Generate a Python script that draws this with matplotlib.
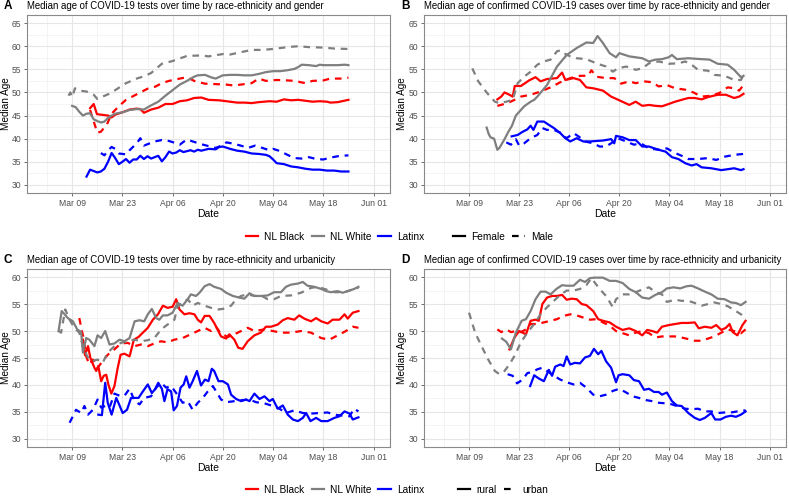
import numpy as np
import matplotlib
matplotlib.use("Agg")
import matplotlib.pyplot as plt
import matplotlib.dates as mdates
from matplotlib.lines import Line2D
from matplotlib.ticker import MultipleLocator

plt.rcParams['font.family'] = ['Liberation Sans', 'DejaVu Sans']

# (days after Mar 09 2020, median age)
# --- A: tests by gender ---
a_black_f = [(5, 46.6), (6, 47.5), (6.9, 45.3), (8, 45.2), (10, 45.0), (11, 44.6), (12, 45.2), (14, 45.7),
             (16, 46.3), (18, 46.5), (19, 46.4), (20, 45.6), (22, 46.3), (24, 46.7), (26, 47.5), (28, 47.5),
             (30, 48.1), (32, 48.3), (34, 48.8), (36, 48.9), (38, 48.4), (41, 48.3), (44, 48.0), (46, 47.8),
             (48, 47.8), (50, 47.7), (52, 47.9), (55, 48.1), (57, 48.0), (59, 48.5), (61, 48.3), (63, 48.4),
             (65, 48.2), (67, 48.0), (69, 48.1), (71, 48.0), (72, 47.8), (74, 47.9), (77, 48.4)]
a_black_m = [(5, 46.2), (7, 41.3), (8, 41.5), (9.7, 43.1), (11, 45.4), (13, 47.0), (15, 48.4), (17, 49.2),
             (19, 50.0), (21, 50.8), (23, 51.2), (25, 52.0), (27, 52.5), (30, 53.0), (32, 53.3), (34, 52.5),
             (37, 51.9), (40, 51.8), (43, 51.7), (45, 51.5), (48, 51.8), (50, 52.0), (52, 53.0), (54, 52.5),
             (57, 52.7), (60, 52.6), (62, 52.5), (65, 52.0), (67, 52.5), (70, 52.6), (72, 53.0), (75, 53.0),
             (77, 53.2)]
a_white_f = [(0, 47.1), (1, 46.8), (2, 45.8), (3, 45.0), (4, 45.4), (5, 45.5), (6, 44.2), (7, 43.8),
             (8, 43.5), (9, 43.7), (10, 44.5), (11, 45.0), (12, 45.4), (14, 45.7), (16, 46.2), (18, 46.4),
             (20, 46.3), (22, 47.2), (24, 48.0), (26, 49.3), (28, 50.5), (30, 51.7), (32, 52.5), (34, 53.4),
             (35, 53.7), (37, 53.8), (39, 53.2), (40, 53.0), (42, 53.7), (44, 53.8), (46, 53.8), (48, 53.7),
             (50, 53.7), (52, 54.0), (54, 54.4), (56, 54.6), (58, 54.6), (60, 54.8), (62, 55.1), (63, 55.5),
             (64, 56.0), (66, 55.9), (68, 55.7), (69, 56.0), (70, 55.9), (72, 55.9), (74, 55.9), (76, 56.0),
             (77, 55.9)]
a_white_m = [(-1, 49.3), (-0.5, 50.0), (0, 49.0), (0.8, 50.9), (2, 50.4), (4, 50.2), (6, 49.5), (7, 48.6),
             (10, 49.6), (11, 50.0), (12, 50.5), (15, 52.0), (18, 53.0), (20, 53.5), (22, 54.2), (25, 56.2),
             (28, 56.8), (32, 57.9), (36, 58.0), (38, 57.8), (42, 58.3), (44, 58.2), (47, 58.7), (50, 59.2),
             (53, 59.2), (56, 59.4), (60, 59.8), (63, 60.0), (66, 59.8), (70, 59.7), (73, 59.5), (77, 59.4)]
a_latinx_f = [(4, 31.8), (5, 33.3), (6, 33.0), (7, 32.7), (8, 32.9), (9, 33.5), (10, 35.0), (11, 36.9),
              (12, 35.8), (13, 34.5), (14, 35.0), (15, 35.6), (16, 34.8), (17, 35.5), (18, 35.5), (19, 36.3),
              (20, 35.6), (21, 36.2), (22, 35.7), (23, 36.0), (24, 36.3), (25, 35.1), (26, 36.0), (27, 37.2),
              (28, 36.8), (29, 37.0), (30, 37.5), (31, 37.1), (32, 37.3), (33, 37.5), (34, 37.2), (35, 37.6),
              (36, 37.4), (38, 37.8), (40, 37.7), (41, 38.2), (42, 38.3), (44, 37.8), (46, 37.4), (48, 37.2),
              (50, 36.8), (52, 36.7), (54, 36.5), (55, 36.2), (56, 35.5), (57, 34.7), (59, 34.5), (61, 34.0),
              (63, 33.8), (65, 33.5), (67, 33.3), (69, 33.3), (71, 33.1), (73, 33.1), (75, 32.9), (77, 32.9)]
a_latinx_m = [(8, 36.9), (9, 36.4), (10, 37.5), (11, 38.2), (12, 37.8), (13, 36.8), (15, 36.6), (16, 37.5),
              (18, 39.0), (19, 40.1), (20, 38.5), (21, 38.8), (23, 39.4), (25, 39.7), (27, 39.5), (29, 39.0),
              (30, 38.7), (31, 39.3), (32, 39.8), (34, 39.3), (36, 38.8), (38, 38.4), (40, 38.0), (42, 38.6),
              (43, 39.2), (45, 38.9), (47, 38.5), (49, 38.0), (51, 38.5), (53, 38.0), (55, 37.5), (56, 37.8),
              (58, 37.3), (60, 36.5), (62, 35.8), (64, 35.7), (66, 36.0), (68, 35.6), (70, 35.5), (72, 35.9),
              (74, 36.2), (77, 36.4)]

# --- B: cases by gender ---
b_black_f = [(7.9, 48.5), (9, 49.1), (9.9, 50.0), (11.3, 49.5), (12.2, 49.1), (12.8, 51.4), (14.5, 51.4),
             (16.8, 52.6), (18.6, 53.3), (20, 52.4), (21.8, 52.9), (24.6, 53.1), (26, 54.3), (26.9, 52.7),
             (29.2, 53.1), (31, 52.7), (32.8, 51.1), (34.7, 50.9), (37.4, 50.4), (39.7, 49.1), (42, 48.3),
             (44.8, 47.3), (46.6, 48.0), (48.4, 47.1), (50.3, 47.3), (52.1, 47.1), (53.9, 47.0), (55.8, 47.5),
             (57.6, 48.0), (59.4, 48.4), (61.3, 48.8), (63.1, 48.8), (65, 48.5), (66.8, 49.0), (69.5, 49.5),
             (71.8, 49.5), (74.1, 48.8), (75.5, 49.1), (76.7, 49.7)]
b_black_m = [(7.9, 47.1), (10.8, 47.7), (12.7, 48.4), (14.5, 49.1), (17.2, 49.5), (20, 50.2), (22.8, 51.1),
             (25.5, 52.2), (28.3, 53.1), (31, 53.6), (33.3, 53.6), (34.2, 54.8), (35.6, 53.4), (38.3, 53.1),
             (40.6, 53.1), (42.5, 51.9), (44.8, 52.4), (46.6, 52.0), (48.9, 52.4), (51.2, 52.2), (53, 51.3),
             (55.3, 51.6), (57.6, 50.9), (60.4, 50.6), (62.7, 50.0), (65, 49.1), (67.7, 49.3), (70, 49.9),
             (72.3, 51.1), (74.1, 50.9), (75.5, 50.4), (76.7, 51.6)]
b_white_f = [(4.9, 42.4), (5.5, 41.0), (6, 40.3), (7, 40.0), (7.9, 37.6), (8.5, 38.0), (10, 40.0), (11, 41.5),
             (12, 42.8), (13.1, 45.0), (15.4, 47.0), (17.2, 48.0), (18.2, 48.4), (19.1, 49.1), (21.8, 51.6),
             (24.6, 55.6), (27.3, 58.1), (30.1, 59.6), (32.8, 60.8), (34.7, 60.7), (35.9, 62.2), (37.4, 60.7),
             (39.3, 58.5), (41.1, 57.6), (42, 58.5), (44.8, 57.8), (48.4, 57.4), (50.3, 56.7), (52.1, 57.1),
             (53.9, 57.2), (55.8, 57.6), (56.7, 58.1), (58.1, 57.2), (61.3, 57.4), (65, 57.2), (67.2, 57.1),
             (69.5, 56.2), (72.3, 56.0), (74.1, 54.9), (76, 53.3), (76.7, 53.6)]
b_white_m = [(0.9, 55.2), (2.6, 52.4), (4.9, 50.0), (7.2, 48.0), (8.5, 47.7), (10.4, 48.0), (12.2, 48.4),
             (13.6, 52.0), (15.4, 53.4), (17.2, 54.5), (19.1, 56.0), (20.9, 56.7), (22.8, 57.1), (24.6, 58.9),
             (25.5, 59.1), (26.4, 58.5), (28.3, 57.8), (30.1, 57.4), (32.8, 57.2), (35.6, 56.3), (38.3, 55.6),
             (40.2, 54.5), (41.6, 55.2), (43.9, 55.6), (46.6, 54.9), (48.4, 55.2), (50.3, 56.3), (53, 56.7),
             (55.8, 56.2), (58.5, 56.3), (60.4, 56.7), (62.2, 56.0), (64, 54.9), (66.8, 54.7), (68.6, 53.8),
             (71.4, 53.6), (74.1, 52.7), (76, 52.7), (76.7, 53.8)]
b_latinx_f = [(11.9, 40.5), (13.6, 40.8), (15, 41.5), (16.3, 42.0), (17.2, 42.8), (18, 41.9), (19.1, 43.7),
              (20.9, 43.7), (22.3, 43.0), (23.7, 42.3), (25.5, 41.2), (26.9, 40.1), (28.3, 39.4), (30.1, 40.1),
              (31.9, 39.4), (33.8, 39.4), (35.6, 39.5), (37.4, 39.6), (39.7, 39.9), (40.6, 39.0), (41.1, 40.6),
              (42.9, 40.3), (44.8, 39.7), (46.6, 39.7), (48.4, 38.3), (50.3, 38.3), (53, 37.6), (54.9, 37.2),
              (56.7, 36.0), (58.5, 35.6), (60.4, 34.7), (62.2, 34.2), (63.6, 34.5), (65, 33.8), (67.7, 33.6),
              (70.5, 33.2), (72.3, 33.4), (74.1, 33.6), (76, 33.2), (76.7, 33.4)]
b_latinx_m = [(10.4, 39.2), (11.7, 38.7), (13.1, 39.9), (14, 38.5), (15.4, 39.0), (17.2, 40.1), (19.1, 40.8),
              (20.5, 42.3), (21.8, 41.9), (23.7, 41.9), (25.5, 41.3), (27.3, 40.1), (29.2, 41.2), (30.6, 40.5),
              (32.4, 39.4), (34.7, 39.0), (36.5, 38.3), (38.3, 38.3), (39.7, 39.0), (41.6, 40.1), (43.9, 39.4),
              (46.1, 38.7), (48, 39.0), (50.3, 37.9), (53, 37.6), (55.3, 37.9), (57.6, 36.9), (59.4, 36.3),
              (61.3, 35.6), (64, 35.6), (66.8, 35.8), (69.1, 35.4), (71.4, 36.1), (74.1, 36.5), (76.7, 36.7)]

# --- C: tests by urbanicity ---
c_black_r = [(3, 48.4), (3.6, 45.5), (4.4, 47.2), (5.1, 45.0), (6.2, 43.2), (6.7, 42.6), (7.3, 43.5),
             (8.1, 40.7), (8.8, 41.7), (9.5, 41.9), (10.1, 40.1), (10.9, 38.4), (11.8, 39.8), (12.7, 43.2),
             (13.5, 45.6), (14.6, 45.8), (16, 45.3), (17.2, 48.4), (18.5, 48.9), (19.7, 49.7), (21.1, 50.6),
             (22.5, 52.1), (23.9, 53.1), (25.3, 54.7), (26.6, 54.3), (28, 54.5), (29, 55.9), (29.9, 54.0),
             (31.3, 53.1), (32.7, 53.3), (34.1, 53.1), (35, 52.1), (35.9, 51.6), (36.9, 52.8), (38.3, 52.8),
             (39.6, 51.5), (41.5, 49.0), (42.9, 48.6), (43.8, 49.4), (45.2, 48.4), (46.3, 46.9), (47.5, 46.7),
             (48.9, 48.1), (50.8, 49.2), (52.6, 49.7), (54, 50.8), (55.4, 50.8), (57.3, 51.2), (58.7, 52.0),
             (60.1, 52.4), (61.9, 52.1), (63.3, 52.9), (64.7, 52.3), (66.6, 51.8), (68, 52.4), (69.4, 51.8),
             (71.2, 51.4), (72.6, 52.1), (74.5, 52.1), (75.9, 53.1), (76.8, 52.3), (78.2, 53.4), (79.8, 53.7)]
c_black_u = [(2, 52.4), (2.7, 50.0), (3.2, 48.7), (3.9, 45.3), (4.8, 43.8), (5.8, 44.7), (7.1, 43.2),
             (8.5, 44.4), (9.9, 45.6), (11.8, 46.6), (13.6, 47.7), (15.5, 47.8), (17.4, 47.2), (19.2, 47.5),
             (21.1, 47.2), (22.9, 47.7), (24.8, 48.1), (26.6, 47.9), (28.5, 48.4), (30.8, 48.7), (33.1, 49.4),
             (35, 50.0), (36.9, 50.6), (38.7, 50.0), (40.1, 50.8), (41.5, 49.5), (43.4, 48.9), (45.2, 49.4),
             (47.1, 50.0), (48.9, 50.6), (50.8, 50.0), (53.6, 50.3), (55.9, 50.0), (58.2, 49.7), (61, 49.7),
             (63.8, 50.0), (66.6, 49.7), (69.4, 48.7), (71.7, 48.4), (74, 49.2), (76.3, 50.0), (78.2, 50.8),
             (79.8, 50.6)]
c_white_r = [(-3.8, 50.0), (-2.9, 53.7), (-2.1, 53.1), (-1.2, 52.4), (0.2, 51.8), (1.4, 50.3), (2.5, 49.8),
             (3, 46.0), (3.9, 48.7), (4.8, 48.4), (6.2, 47.2), (7.1, 49.2), (8.1, 48.7), (9.2, 50.0),
             (10.4, 47.5), (11.8, 47.7), (13.2, 48.4), (14.6, 48.1), (16, 48.7), (17.4, 51.8), (18.8, 52.0),
             (20.1, 51.8), (21.1, 53.1), (22.2, 54.1), (23.4, 52.4), (24.3, 52.1), (25.3, 52.9), (26.6, 52.9),
             (28, 53.4), (29.4, 55.2), (30.8, 54.7), (32.2, 55.9), (33.1, 56.8), (34.5, 56.5), (35.5, 57.1),
             (36.9, 58.3), (38.3, 58.7), (39.6, 58.2), (41.5, 57.8), (42.9, 57.1), (44.8, 56.5), (46.6, 56.2),
             (48, 56.0), (49.4, 57.0), (50.8, 56.5), (52.6, 56.5), (54.5, 56.6), (56.3, 57.2), (58.2, 57.2),
             (59.6, 58.2), (61, 58.6), (62.9, 58.8), (64.3, 59.1), (65.6, 58.4), (67.5, 58.2), (69.4, 57.8),
             (70.8, 57.4), (72.1, 57.2), (74, 57.4), (75.4, 57.1), (76.8, 57.4), (78.6, 57.8), (79.8, 58.2)]
c_white_u = [(-3.8, 50.0), (-3.1, 49.7), (-1.9, 54.0), (-0.7, 52.1), (0.6, 50.6), (2, 49.7), (3, 47.2),
             (4.2, 45.3), (5.3, 44.4), (7.1, 44.7), (8.5, 44.1), (9.9, 46.0), (11.8, 47.2), (13.6, 47.8),
             (15.5, 48.1), (17.4, 48.4), (19.2, 48.1), (21.1, 48.3), (22.9, 48.7), (24.8, 50.3), (26.6, 51.2),
             (28.5, 52.1), (29.4, 54.6), (30.8, 55.2), (32.2, 55.9), (33.6, 54.7), (35, 55.2), (36.9, 54.7),
             (38.7, 54.3), (40.6, 54.0), (42, 54.1), (44.3, 54.7), (45.7, 55.9), (47.1, 56.5), (48.9, 56.8),
             (50.8, 56.5), (52.6, 56.6), (54.5, 55.9), (56.3, 55.9), (58.2, 56.5), (61, 56.6), (63.8, 57.1),
             (66.6, 58.0), (68.4, 58.2), (70.8, 57.7), (73.1, 57.2), (75.9, 57.2), (77.7, 57.6), (79.8, 58.0)]
c_latinx_r = [(7.3, 34.5), (8.3, 34.4), (9.2, 40.4), (9.9, 36.7), (11, 34.5), (12.3, 37.6), (13.2, 36.2),
              (14.1, 34.8), (15.3, 35.4), (16.4, 37.6), (17.4, 37.6), (18.5, 37.6), (19.7, 38.8), (21.1, 40.1),
              (22.2, 38.5), (23.1, 39.2), (24, 40.4), (25, 39.3), (25.7, 37.0), (26.6, 39.2), (27.6, 38.8),
              (28.3, 35.3), (29.2, 36.1), (30.2, 39.5), (31.1, 40.1), (31.8, 41.6), (32.7, 39.5), (33.6, 40.7),
              (34.8, 42.6), (35.9, 39.9), (37, 41.0), (38, 40.7), (38.9, 43.0), (39.6, 42.6), (40.8, 40.7),
              (42, 40.7), (43.4, 40.1), (44.3, 38.2), (45.7, 37.4), (47.1, 37.0), (48.5, 37.3), (49.4, 37.0),
              (50.8, 38.4), (52.2, 37.4), (53.6, 37.9), (55, 37.0), (55.9, 37.4), (57.3, 35.6), (58.7, 36.2),
              (60.1, 34.5), (61.5, 33.6), (62.9, 33.3), (64.3, 33.9), (65.2, 34.8), (66.4, 33.3), (68, 33.9),
              (69.4, 33.3), (71.2, 33.3), (73.1, 33.9), (74.5, 34.2), (75.9, 35.1), (77.3, 34.7), (78.2, 33.6),
              (79.8, 34.0)]
c_latinx_u = [(-0.7, 33.0), (0.2, 34.2), (1.1, 35.4), (2.5, 34.8), (3.4, 36.1), (4.4, 34.5), (5.8, 35.4),
              (7.1, 37.3), (8.1, 35.8), (9.2, 36.1), (10.4, 35.8), (11.8, 38.4), (13.2, 38.0), (14.6, 38.0),
              (16, 39.3), (17.4, 37.0), (18.8, 36.4), (20.1, 37.6), (22, 37.9), (23.4, 39.5), (24.8, 40.4),
              (26.2, 39.5), (27.6, 39.8), (29, 38.5), (30.8, 36.7), (32.2, 37.0), (33.6, 35.4), (35, 36.7),
              (36.4, 37.6), (37.8, 38.8), (39.2, 39.8), (40.4, 38.5), (41.5, 37.3), (42.9, 36.8), (45.2, 37.0),
              (47.5, 37.2), (49.4, 37.3), (51.3, 36.8), (53.6, 36.6), (55.9, 36.1), (57.8, 35.6), (59.6, 34.8),
              (61.9, 35.3), (64.3, 34.8), (66.6, 34.7), (68.9, 34.8), (71.2, 34.9), (73.1, 34.5), (75.4, 34.3),
              (77.3, 34.2), (78.6, 35.6), (79.8, 35.1)]

# --- D: cases by urbanicity ---
d_black_r = [(11.3, 46.6), (12.7, 48.8), (14, 50.0), (15.9, 49.4), (17.2, 51.9), (18.6, 52.1), (19.5, 51.9),
             (20.5, 55.0), (21.8, 56.2), (23.2, 56.5), (24.6, 56.5), (26, 56.7), (27.3, 55.8), (28.7, 56.0),
             (30.1, 55.9), (31.5, 55.0), (32.8, 54.8), (34.7, 53.7), (36.1, 52.2), (37.4, 51.9), (39.3, 51.6),
             (41.1, 50.8), (42.9, 50.2), (44.8, 50.5), (46.6, 50.0), (48.4, 49.2), (49.8, 50.2), (51.2, 50.0),
             (52.6, 49.7), (53.9, 50.8), (55.8, 51.1), (57.6, 51.3), (59.4, 51.5), (61.3, 51.5), (63.1, 51.6),
             (64.2, 50.5), (65.9, 50.8), (67.7, 50.6), (69.1, 51.1), (70.5, 50.2), (71.8, 50.6), (72.8, 51.3),
             (73.7, 49.8), (75, 49.2), (76.4, 51.1), (77.3, 51.9)]
d_black_u = [(7.9, 50.3), (9, 49.8), (10.4, 50.3), (11.7, 49.8), (13.1, 50.0), (14.5, 49.8), (15.9, 50.3),
             (17.2, 51.3), (19.1, 51.3), (20.9, 51.6), (22.8, 51.9), (24.6, 52.2), (26.4, 52.8), (28.3, 53.1),
             (30.1, 52.9), (31.9, 52.5), (33.8, 52.1), (35.6, 52.2), (37.4, 51.6), (39.3, 51.0), (41.1, 50.0),
             (42.9, 49.6), (44.8, 49.2), (46.6, 49.7), (48.4, 50.0), (50.3, 49.6), (52.1, 48.8), (53.9, 49.0),
             (55.8, 49.0), (57.6, 49.0), (59.4, 48.8), (61.3, 48.5), (63.1, 48.2), (65, 48.2), (66.8, 48.6),
             (68.6, 49.0), (70.5, 49.7), (72.3, 50.3), (74.1, 50.0), (76, 49.6), (77.3, 50.3)]
d_white_r = [(9.2, 48.6), (10.4, 48.0), (11.7, 46.6), (13.1, 49.7), (14.7, 51.9), (15.9, 52.2), (17.2, 53.7),
             (18.6, 55.9), (20, 57.3), (21.4, 57.3), (22.8, 56.8), (24.4, 57.8), (26, 58.5), (27.3, 58.4),
             (29.2, 58.4), (31, 59.5), (32.4, 59.1), (33.8, 59.8), (35.1, 59.9), (37.4, 59.9), (39.3, 59.3),
             (41.1, 59.3), (42.9, 58.9), (44.8, 57.8), (46.6, 57.2), (48.4, 56.2), (50.3, 56.0), (52.1, 56.7),
             (53.9, 57.2), (55.3, 57.9), (57.2, 58.1), (59, 57.9), (60.8, 58.3), (62.2, 58.4), (64, 57.9),
             (65.9, 57.3), (67.7, 56.8), (69.5, 56.0), (71.4, 55.9), (73.2, 55.3), (74.6, 55.2), (76, 54.8),
             (77.3, 55.4)]
d_white_u = [(0, 53.4), (1.7, 49.7), (3.5, 47.2), (5.3, 44.8), (7.2, 42.6), (8.5, 42.0), (9.9, 42.6),
             (11.3, 43.8), (12.7, 45.4), (14.5, 47.9), (16.3, 49.7), (18.2, 51.3), (20, 53.1), (21.8, 54.4),
             (23.7, 55.6), (25.5, 56.7), (27.3, 57.5), (29.2, 57.5), (31, 57.8), (32.8, 58.5), (34.2, 59.8),
             (36.5, 57.8), (38.3, 56.5), (40.2, 54.4), (41.1, 55.9), (42.9, 56.8), (44.8, 56.8), (46.6, 57.2),
             (48.4, 57.7), (50.3, 58.1), (52.1, 57.2), (53.9, 56.8), (55.3, 55.4), (57.6, 55.8), (59.4, 55.6),
             (61.3, 55.6), (63.1, 55.2), (65, 54.7), (66.8, 55.0), (68.6, 55.3), (70.5, 55.0), (72.3, 54.6),
             (74.1, 53.9), (76, 53.1), (77.3, 52.2)]
d_latinx_r = [(17.1, 39.8), (18.2, 41.8), (19.5, 41.2), (20.9, 40.7), (22.3, 42.8), (23.2, 41.7), (24.1, 43.4),
              (25.5, 43.8), (26.4, 43.5), (27.3, 45.3), (28.3, 43.8), (29.6, 44.1), (31, 44.0), (32.4, 45.1),
              (33.8, 45.4), (34.9, 46.7), (36.1, 45.7), (37, 46.3), (38.3, 44.4), (39.7, 43.2), (41.1, 40.5),
              (41.8, 41.8), (42.9, 42.0), (44.8, 41.8), (46.1, 40.9), (47.5, 40.7), (48.9, 39.1), (50.3, 39.3),
              (51.7, 38.7), (53, 38.7), (53.9, 38.2), (55.3, 38.6), (56.7, 37.0), (58.1, 36.2), (59.4, 36.1),
              (61.3, 34.8), (63.1, 33.9), (64.5, 33.5), (65.9, 33.9), (67.7, 34.8), (68.8, 33.6), (70.3, 33.6),
              (71.8, 34.1), (73.2, 34.3), (74.6, 34.1), (76, 34.5), (77.3, 35.1)]
d_latinx_u = [(10.8, 42.0), (12.2, 41.7), (13.4, 40.3), (15, 41.0), (16.3, 42.2), (17.7, 42.4), (19.1, 42.9),
              (20.5, 43.2), (21.8, 42.6), (23.7, 41.7), (25.5, 41.0), (27.3, 40.5), (29.2, 40.1), (31, 40.4),
              (32.8, 39.5), (34.7, 38.2), (36.5, 37.9), (38.3, 38.2), (40.2, 38.9), (42, 39.3), (43.9, 38.6),
              (45.7, 37.9), (47.5, 37.6), (49.4, 37.2), (51.2, 37.0), (53, 36.7), (54.9, 36.6), (56.7, 36.4),
              (58.5, 36.0), (60.4, 35.6), (62.2, 35.5), (64, 35.6), (65.9, 35.1), (67.7, 35.1), (69.5, 34.8),
              (71.4, 34.9), (73.2, 34.9), (75, 35.1), (77.3, 35.3)]

groups = ['NL Black', 'NL White', 'Latinx']
colors = {'NL Black': '#ff0000', 'NL White': '#7f7f7f', 'Latinx': '#0000ff'}
titles = ['Median age of COVID-19 tests over time by race-ethnicity and gender',
          'Median age of confirmed COVID-19 cases over time by race-ethnicity and gender',
          'Median age of COVID-19 tests over time by race-ethnicity and urbanicity',
          'Median age of confirmed COVID-19 cases over time by race-ethnicity and urbanicity']
letters = ['A', 'B', 'C', 'D']

panels = [
    {'NL Black': (a_black_f, a_black_m), 'NL White': (a_white_f, a_white_m), 'Latinx': (a_latinx_f, a_latinx_m)},
    {'NL Black': (b_black_f, b_black_m), 'NL White': (b_white_f, b_white_m), 'Latinx': (b_latinx_f, b_latinx_m)},
    {'NL Black': (c_black_r, c_black_u), 'NL White': (c_white_r, c_white_u), 'Latinx': (c_latinx_r, c_latinx_u)},
    {'NL Black': (d_black_r, d_black_u), 'NL White': (d_white_r, d_white_u), 'Latinx': (d_latinx_r, d_latinx_u)},
]

base = np.datetime64('2020-03-09T00')


def to_dates(days):
    return base + np.round(np.asarray(days) * 24).astype('timedelta64[h]')


fig = plt.figure(figsize=(7.89, 4.96), dpi=100)
W, H = 789, 496
boxes = [(27, 15, 390, 193), (424, 15, 786, 193), (27, 269, 390, 447), (424, 269, 786, 447)]
ylims = [(28.25, 66.75), (28.25, 66.75), (28.5, 61.5), (28.5, 61.5)]
ylab_x = [11, 407, 11, 407]   # right edge of the rotated y label, in pixels
dash = (3, 2.6)

for i, data in enumerate(panels):
    l, t, r, b = boxes[i]
    ax = fig.add_axes([l / W, 1 - b / H, (r - l) / W, (b - t) / H])
    for g in groups:
        solid, dashed = data[g]
        for series, ls in ((solid, '-'), (dashed, '--')):
            d, v = zip(*series)
            line, = ax.plot(to_dates(d), v, color=colors[g], lw=1.6, solid_joinstyle='round')
            if ls == '--':
                line.set_dashes(dash)
    ax.set_xlim(np.datetime64('2020-03-01T00') - np.timedelta64(110, 'h'),
                np.datetime64('2020-06-01T00') + np.timedelta64(110, 'h'))
    ax.set_ylim(*ylims[i])
    ax.yaxis.set_major_locator(MultipleLocator(5))
    ax.yaxis.set_minor_locator(MultipleLocator(2.5))
    ax.set_xticks(to_dates([0, 14, 28, 42, 56, 70, 84]))
    ax.set_xticks(to_dates([-7, 7, 21, 35, 49, 63, 77]), minor=True)
    ax.xaxis.set_major_formatter(mdates.DateFormatter('%b %d'))
    ax.grid(True, which='major', color='#e6e6e6', lw=0.8)
    ax.grid(True, which='minor', color='#f0f0f0', lw=0.5)
    ax.set_axisbelow(True)
    for s in ax.spines.values():
        s.set_color('#8a8a8a')
        s.set_linewidth(0.8)
    ax.tick_params(which='major', length=2.5, width=0.6, color='#555555', labelsize=6.2,
                   labelcolor='#4d4d4d', pad=1.6)
    ax.tick_params(which='minor', length=0)
    ax.set_xlabel('Date', fontsize=7.5, labelpad=1)
    ax.set_ylabel('Median Age', fontsize=7.2)
    ax.yaxis.set_label_coords((ylab_x[i] - l) / (r - l), 0.5)
    ax.set_title(titles[i], loc='left', fontsize=6.95, pad=4)
    fig.text((l - 23) / W, 1 - (t - 9) / H, letters[i], fontsize=8.5, fontweight='bold', va='center')

# legends
col_handles = [Line2D([], [], color=colors[g], lw=1.6) for g in groups]
for yl, lt_labels in ((237, ['Female', 'Male']), (490, ['rural', 'urban'])):
    yy = 1 - yl / H
    fig.legend(col_handles, groups, loc='center', bbox_to_anchor=(335 / W, yy), ncol=3, frameon=False,
               fontsize=7.3, handlelength=1.2, handletextpad=0.6, columnspacing=0.7, borderpad=0)
    lt_handles = [Line2D([], [], color='black', lw=1.6),
                  Line2D([], [], color='black', lw=1.6, dashes=dash)]
    fig.legend(lt_handles, lt_labels, loc='center', bbox_to_anchor=(503 / W, yy), ncol=2, frameon=False,
               fontsize=7.3, handlelength=1.2, handletextpad=0.6, columnspacing=0.7, borderpad=0)

fig.savefig('out.png', dpi=100)
